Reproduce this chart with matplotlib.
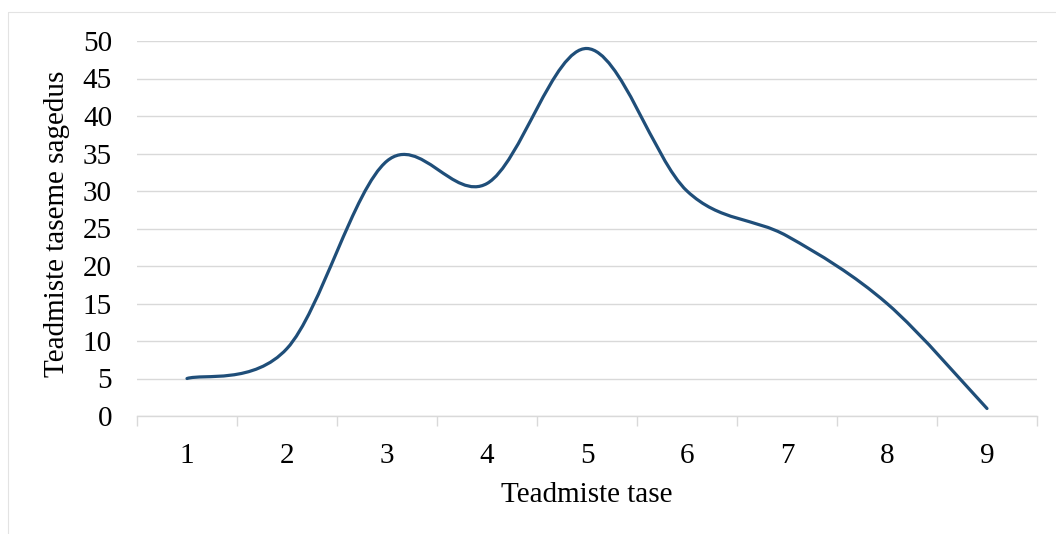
import matplotlib
matplotlib.use("Agg")
import matplotlib.pyplot as plt
from matplotlib.path import Path
from matplotlib.patches import PathPatch
from matplotlib.lines import Line2D
import numpy as np

levels = [1, 2, 3, 4, 5, 6, 7, 8, 9]
frequency = [5, 9, 34, 31, 49, 30, 24, 15, 1]
y_ticks = [0, 5, 10, 15, 20, 25, 30, 35, 40, 45, 50]
x_label = "Teadmiste tase"
y_label = "Teadmiste taseme sagedus"

plt.rcParams['font.family'] = ['Liberation Serif', 'DejaVu Serif']

W, H = 1056, 534
fig = plt.figure(figsize=(W / 100, H / 100), dpi=100)
# chart-area border (top and left edges visible)
fig.lines.append(Line2D([7.5 / W, 7.5 / W, 1.0], [0.0, 1 - 12 / H, 1 - 12 / H],
                        transform=fig.transFigure, color='#e3e3e3', linewidth=0.8))
ax = fig.add_axes([137 / W, 1 - 416 / H, 900 / W, 375 / H])

# Excel-like smoothed line (cubic Bezier, Catmull-Rom style control points)
x = np.array(levels, dtype=float)
y = np.array(frequency, dtype=float)
n = len(x)
verts = [(x[0], y[0])]
codes = [Path.MOVETO]
for i in range(n - 1):
    p0 = np.array([x[i - 1], y[i - 1]]) if i > 0 else np.array([x[i], y[i]])
    p1 = np.array([x[i], y[i]])
    p2 = np.array([x[i + 1], y[i + 1]])
    p3 = np.array([x[i + 2], y[i + 2]]) if i + 2 < n else p2
    c1 = p1 + (p2 - p0) / 6.0
    c2 = p2 - (p3 - p1) / 6.0
    verts += [tuple(c1), tuple(c2), tuple(p2)]
    codes += [Path.CURVE4] * 3
ax.add_patch(PathPatch(Path(verts, codes), fill=False, edgecolor='#1f4e79',
                       linewidth=2.3, capstyle='round', joinstyle='round', zorder=3))

ax.set_xlim(0.5, 9.5)
ax.set_ylim(0, 50)
ax.set_yticks(y_ticks)
ax.set_xticks(levels)
ax.set_xticks(np.arange(0.5, 10, 1.0), minor=True)
ax.grid(axis='y', color='#d9d9d9', linewidth=1.0)
ax.set_axisbelow(True)
for s in ['top', 'right', 'left']:
    ax.spines[s].set_visible(False)
ax.spines['bottom'].set_color('#d9d9d9')
ax.spines['bottom'].set_linewidth(1.0)
ax.tick_params(axis='y', length=0, pad=18, labelsize=21)
ax.tick_params(axis='x', which='major', length=0, pad=19.5, labelsize=21)
ax.tick_params(axis='x', which='minor', length=7, width=1.0, color='#d9d9d9', direction='out')
ax.set_xlabel(x_label, fontsize=21, labelpad=9)
ax.set_ylabel(y_label, fontsize=21)
ax.yaxis.set_label_coords((70 - 137) / 900, (416 - 223.5) / 375)

fig.savefig("out.png", dpi=100)
